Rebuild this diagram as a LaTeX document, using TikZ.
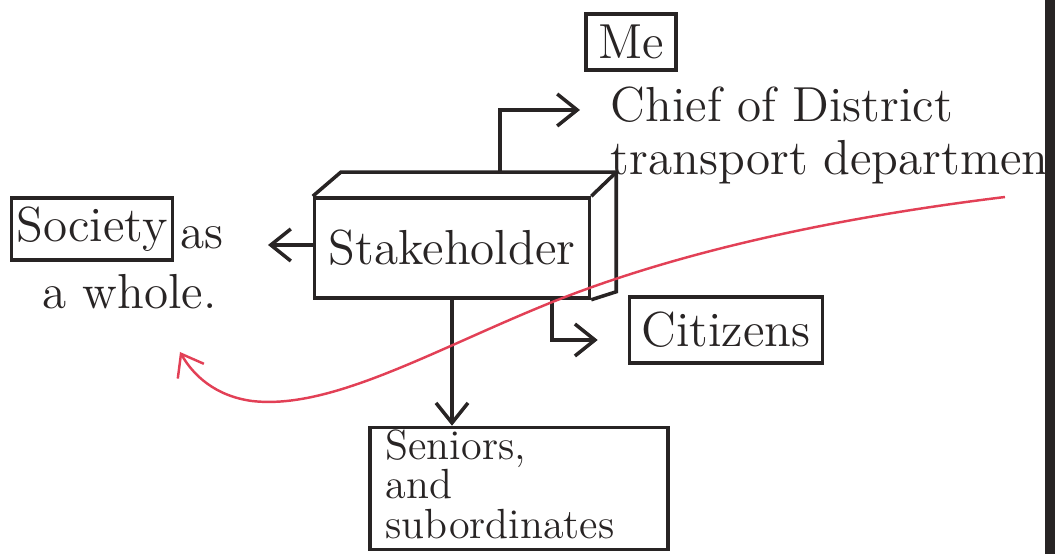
\documentclass[tikz,border=0pt]{standalone}
\usetikzlibrary{arrows.meta}
\definecolor{ink}{RGB}{40,36,36}
\definecolor{redpen}{RGB}{226,64,86}
\begin{document}
\begin{tikzpicture}[x=0.1mm,y=-0.1mm,
  inkline/.style={line width=1pt, draw=ink},
  arr/.style={inkline, -{Straight Barb[length=2mm,width=3.2mm]}},
  box/.style={inkline, inner sep=0pt},
  lbl/.style={font=\fontsize{14}{16}\selectfont, text=ink, inner sep=0pt},
  senlbl/.style={font=\fontsize{12}{14}\selectfont, text=ink, inner sep=0pt, anchor=base west},
  redcurve/.style={line width=0.7pt, draw=redpen, -{Straight Barb[length=2mm,width=3mm]}}]
\useasboundingbox (0,0) rectangle (1063,554);
% page margin line
\draw[line width=2.6pt, draw=ink] (1050,0) -- (1050,554);

% Stakeholder (3D box)
\node[box, lbl, draw, minimum width=27.5mm, minimum height=10mm] (stake) at (452,248) {Stakeholder};
\draw[inkline] (stake.north west) -- ++(28,-24) -- ([shift={(25,-24)}]stake.north east)
  -- ([shift={(25,-8)}]stake.south east) -- (stake.south east);
\draw[inkline] (stake.north east) -- ++(25,-24);
\coordinate (stakeback) at ([shift={(48,-24)}]stake.north);

% Me / Chief of District
\node[box, lbl, draw, minimum width=9mm, minimum height=5.6mm] (me) at (631,42) {Me};
\node[lbl, font=\fontsize{14}{15}\selectfont, anchor=north west, align=left] (chief) at (610,86) {Chief of District\\transport departmen};
\coordinate (tochief) at (580,110);
\draw[arr] (stakeback) |- (tochief);

% Society as a whole
\node[box, lbl, draw, minimum width=16.1mm, minimum height=6.2mm] (society) at (92,229) {Society};
\node[lbl, anchor=west] (as) at (180,238) {as};
\node[lbl, anchor=west] (whole) at (42,292) {a whole.};
\coordinate (tosociety) at (268,245);
\draw[arr] (stake.west |- tosociety) -- (tosociety);

% Citizens
\node[box, lbl, draw, minimum width=19.3mm, minimum height=6.6mm] (citizens) at (726,330) {Citizens};
\draw[arr] ([shift={(100,0)}]stake.south) |- ([shift={(-30,10)}]citizens.west);

% Seniors and subordinates
\node[box, draw, minimum width=29.8mm, minimum height=12.2mm] (seniors) at (519,488.5) {};
\node[senlbl] (sen1) at (385,460) {Seniors,};
\node[senlbl] (sen2) at (385,499) {and};
\node[senlbl] (sen3) at (385,539) {subordinates};
\draw[arr] (stake.south) -- (stake.south |- seniors.north);

% red curve
\draw[redcurve] (1005,197) .. controls (800,222) and (650,262) .. (545,305)
  .. controls (430,352) and (330,410) .. (252,401)
  .. controls (215,396) and (193,375) .. (180,352);
\end{tikzpicture}
\end{document}
